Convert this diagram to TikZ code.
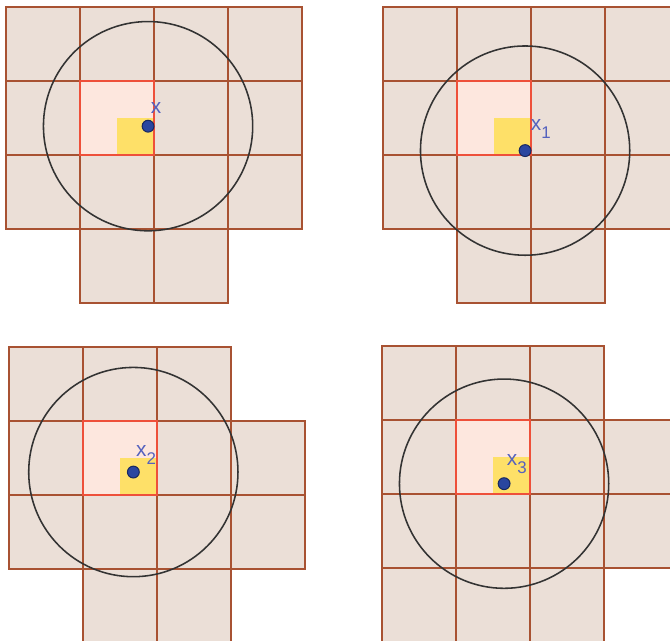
\documentclass[tikz,border=0pt]{standalone}
\usepackage{fontspec}
\setmainfont{Liberation Sans}
\usepackage{tikz}
\usetikzlibrary{positioning}
\definecolor{cellbg}{RGB}{235,223,215}
\definecolor{cellrule}{RGB}{168,82,50}
\definecolor{homebg}{RGB}{253,231,222}
\definecolor{homerule}{RGB}{238,80,58}
\definecolor{quadbg}{RGB}{254,224,104}
\definecolor{dotblue}{RGB}{42,70,160}
\definecolor{lblblue}{RGB}{85,98,190}
\newcommand{\cellsz}{1cm}
\newcommand{\dotrad}{0.08cm}
\newcommand{\searchrad}{1.414}
\newcommand{\imgw}{9.054}
\newcommand{\imgh}{8.662}
\newcommand{\qsub}[1]{\raisebox{-3pt}{\fontsize{6.5}{7}\selectfont#1}}
\tikzset{
  cell/.style={fill=cellbg,draw=cellrule,line width=0.75pt},
  homecell/.style={draw=homerule,line width=0.6pt},
  searchcircle/.style={draw=black!80,line width=0.6pt},
  qpoint/.style={circle,fill=dotblue,draw=dotblue!60!black,line width=0.4pt,
    minimum size=2*\dotrad,inner sep=0pt},
  qlabel/.style={text=lblblue,inner sep=0pt,anchor=base west,
    font=\fontsize{8}{9}\selectfont}
}
\begin{document}
\begin{tikzpicture}[x=\cellsz,y=\cellsz]
    \useasboundingbox (0,0) rectangle (\imgw,-\imgh);
    \clip (0,0) rectangle (\imgw,-\imgh);

    % top left: x
    \begin{scope}[shift={(1.081,-2.095)}]
      \foreach \c/\r in {-1/1,0/1,1/1,2/1,-1/0,0/0,1/0,2/0,
                         -1/-1,0/-1,1/-1,2/-1,0/-2,1/-2}
        \draw[cell] (\c,\r) rectangle ++(1,1);
      \fill[homebg] (0,0) rectangle (1,1);
      \fill[quadbg] (0.5,0) rectangle (1,0.5);
      \draw[homecell] (0,0) rectangle (1,1);
      \node[qpoint] (ptx) at (0.92,0.39) {};
      \draw[searchcircle] (ptx.center) circle[radius=\searchrad];
      \node[qlabel,above right=0.1 and -0.03 of ptx] (lblx) {x};
    \end{scope}

    % top right: x_1
    \begin{scope}[shift={(6.176,-2.095)}]
      \foreach \c/\r in {-1/1,0/1,1/1,2/1,-1/0,0/0,1/0,2/0,
                         -1/-1,0/-1,1/-1,2/-1,0/-2,1/-2}
        \draw[cell] (\c,\r) rectangle ++(1,1);
      \fill[homebg] (0,0) rectangle (1,1);
      \fill[quadbg] (0.5,0) rectangle (1,0.5);
      \draw[homecell] (0,0) rectangle (1,1);
      \node[qpoint] (ptxa) at (0.92,0.06) {};
      \draw[searchcircle] (ptxa.center) circle[radius=\searchrad];
      \node[qlabel,above right=0.1 and 0.01 of ptxa] (lblxa) {x\qsub{1}};
    \end{scope}

    % bottom left: x_2
    \begin{scope}[shift={(1.122,-6.689)}]
      \foreach \c/\r in {-1/1,0/1,1/1,-1/0,0/0,1/0,2/0,
                         -1/-1,0/-1,1/-1,2/-1,0/-2,1/-2}
        \draw[cell] (\c,\r) rectangle ++(1,1);
      \fill[homebg] (0,0) rectangle (1,1);
      \fill[quadbg] (0.5,0) rectangle (1,0.5);
      \draw[homecell] (0,0) rectangle (1,1);
      \node[qpoint] (ptxb) at (0.68,0.31) {};
      \draw[searchcircle] (ptxb.center) circle[radius=\searchrad];
      \node[qlabel,above right=0.04 and -0.03 of ptxb] (lblxb) {x\qsub{2}};
    \end{scope}

    % bottom right: x_3
    \begin{scope}[shift={(6.162,-6.676)}]
      \foreach \c/\r in {-1/1,0/1,1/1,-1/0,0/0,1/0,2/0,
                         -1/-1,0/-1,1/-1,2/-1,-1/-2,0/-2,1/-2}
        \draw[cell] (\c,\r) rectangle ++(1,1);
      \fill[homebg] (0,0) rectangle (1,1);
      \fill[quadbg] (0.5,0) rectangle (1,0.5);
      \draw[homecell] (0,0) rectangle (1,1);
      \node[qpoint] (ptxc) at (0.65,0.14) {};
      \draw[searchcircle] (ptxc.center) circle[radius=\searchrad];
      \node[qlabel,above right=0.07 and -0.03 of ptxc] (lblxc) {x\qsub{3}};
    \end{scope}
  \end{tikzpicture}
\end{document}
